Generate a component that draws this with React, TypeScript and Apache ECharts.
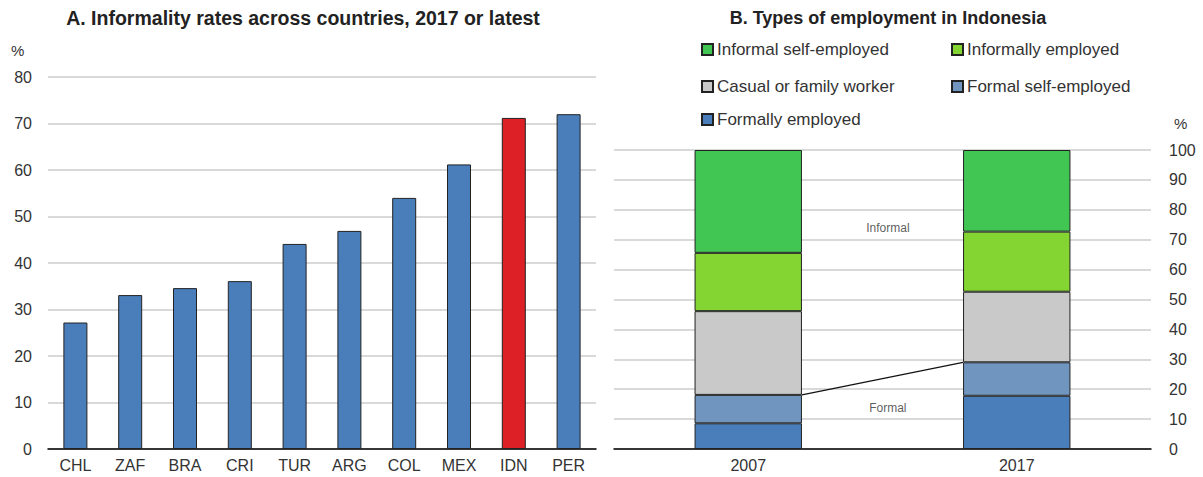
import React, { useEffect, useRef } from "react";
import * as echarts from "echarts";

const countries = ["CHL", "ZAF", "BRA", "CRI", "TUR", "ARG", "COL", "MEX", "IDN", "PER"];
const informality = [27.2, 33.1, 34.6, 36.1, 44.1, 46.9, 54.0, 61.2, 71.2, 72.0];
const highlight = "IDN";

const years = ["2007", "2017"];
const formallyEmployed = [8.6, 17.8];
const formalSelfEmployed = [9.5, 11.2];
const casualFamily = [28.0, 23.6];
const informallyEmployed = [19.5, 20.1];
const informalSelfEmployed = [34.4, 27.3];

const leftTicks = [0, 10, 20, 30, 40, 50, 60, 70, 80];
const rightTicks = [0, 10, 20, 30, 40, 50, 60, 70, 80, 90, 100];

const FONT = "'Liberation Sans Narrow', 'Arial Narrow', 'Liberation Sans', Arial, sans-serif";

export default function App() {
  const ref = useRef<HTMLDivElement>(null);
  useEffect(() => {
    document.body.style.margin = "0";
    if (!ref.current) return;
    const chart = echarts.init(ref.current, undefined, { renderer: "svg" });

    const formalTop = formallyEmployed.map((v, i) => +(v + formalSelfEmployed[i]).toFixed(1));

    const seriesB = [
      { name: "Formally employed", data: formallyEmployed, color: "#4a7ebb" },
      { name: "Formal self-employed", data: formalSelfEmployed, color: "#7096bf" },
      { name: "Casual or family worker", data: casualFamily, color: "#c9c9c9" },
      { name: "Informally employed", data: informallyEmployed, color: "#84d432" },
      { name: "Informal self-employed", data: informalSelfEmployed, color: "#42c653" },
    ];

    const legendPos: Record<string, [number, number]> = {
      "Informal self-employed": [696, 36],
      "Informally employed": [946, 36],
      "Casual or family worker": [696, 73],
      "Formal self-employed": [946, 73],
      "Formally employed": [696, 106],
    };

    const option: any = {
      animation: false,
      textStyle: { fontFamily: FONT },
      title: [
        {
          text: "A. Informality rates across countries, 2017 or latest",
          left: 298,
          textAlign: "center",
          top: 3,
          textStyle: { fontFamily: FONT, fontSize: 19.5, fontWeight: "bold", color: "#222" },
        },
        {
          text: "B. Types of employment in Indonesia",
          left: 883,
          textAlign: "center",
          top: 4,
          textStyle: { fontFamily: FONT, fontSize: 18, fontWeight: "bold", color: "#222" },
        },
      ],
      legend: seriesB
        .slice()
        .reverse()
        .map((s) => ({
          data: [s.name],
          left: legendPos[s.name][0],
          top: legendPos[s.name][1],
          icon: "rect",
          itemWidth: 11,
          itemHeight: 11,
          itemGap: 0,
          selectedMode: false,
          textStyle: { fontFamily: FONT, fontSize: 17, color: "#333", padding: [0, 0, 0, -1] },
        })),
      grid: [
        { left: 48, width: 548, top: 77, height: 372 },
        { left: 614, width: 537, top: 150, height: 299 },
      ],
      xAxis: [
        {
          type: "category",
          gridIndex: 0,
          data: countries,
          axisLine: { lineStyle: { color: "#000", width: 1.5 } },
          axisTick: { inside: true, length: 6, lineStyle: { color: "#000" } },
          axisLabel: { fontFamily: FONT, fontSize: 16, color: "#333", margin: 8 },
        },
        {
          type: "category",
          gridIndex: 1,
          data: years,
          axisLine: { lineStyle: { color: "#000", width: 1.5 } },
          axisTick: { inside: true, length: 6, lineStyle: { color: "#000" } },
          axisLabel: { fontFamily: FONT, fontSize: 16, color: "#333", margin: 8 },
        },
        {
          type: "value",
          gridIndex: 1,
          min: 0,
          max: 2,
          show: false,
        },
      ],
      yAxis: [
        {
          type: "value",
          gridIndex: 0,
          min: 0,
          max: 80,
          interval: 10,
          axisLine: { show: false },
          axisTick: { show: false },
          splitLine: { lineStyle: { color: "#d9d9d9", width: 2 } },
          axisLabel: {
            fontFamily: FONT,
            fontSize: 16,
            color: "#333",
            margin: 16,
            customValues: leftTicks,
          },
        },
        {
          type: "value",
          gridIndex: 1,
          position: "right",
          min: 0,
          max: 100,
          interval: 10,
          axisLine: { show: false },
          axisTick: { show: false },
          splitLine: { lineStyle: { color: "#d9d9d9", width: 2 } },
          axisLabel: {
            fontFamily: FONT,
            fontSize: 16,
            color: "#333",
            margin: 18,
            customValues: rightTicks,
          },
        },
      ],
      graphic: [
        { type: "text", left: 11, top: 43, style: { text: "%", fontFamily: FONT, fontSize: 15, fill: "#333" } },
        { type: "text", left: 1174, top: 116, style: { text: "%", fontFamily: FONT, fontSize: 15, fill: "#333" } },
      ],
      series: [
        {
          type: "bar",
          xAxisIndex: 0,
          yAxisIndex: 0,
          barWidth: 24,
          data: informality.map((v, i) => ({
            value: v,
            itemStyle: { color: countries[i] === highlight ? "#dc2026" : "#4a7ebb" },
          })),
          itemStyle: { borderColor: "#222", borderWidth: 1 },
        },
        ...seriesB.map((s) => ({
          type: "bar",
          name: s.name,
          xAxisIndex: 1,
          yAxisIndex: 1,
          stack: "emp",
          barWidth: "40%",
          data: s.data,
          itemStyle: { color: s.color, borderColor: "#222", borderWidth: 1 },
        })),
        {
          type: "line",
          xAxisIndex: 2,
          yAxisIndex: 1,
          data: [
            [0.7, formalTop[0]],
            [1.3, formalTop[1]],
          ],
          symbol: "none",
          lineStyle: { color: "#111", width: 1.2 },
          z: 5,
        },
        {
          type: "scatter",
          xAxisIndex: 2,
          yAxisIndex: 1,
          symbolSize: 0,
          data: [
            { value: [1.02, 74], name: "Informal" },
            { value: [1.02, 13.7], name: "Formal" },
          ],
          label: {
            show: true,
            position: "inside",
            formatter: (p: any) => p.name,
            fontFamily: FONT,
            fontSize: 12,
            color: "#333",
          },
        },
      ],
    };
    chart.setOption(option);
    return () => chart.dispose();
  }, []);
  return <div ref={ref} style={{ width: 1203, height: 477 }} />;
}
